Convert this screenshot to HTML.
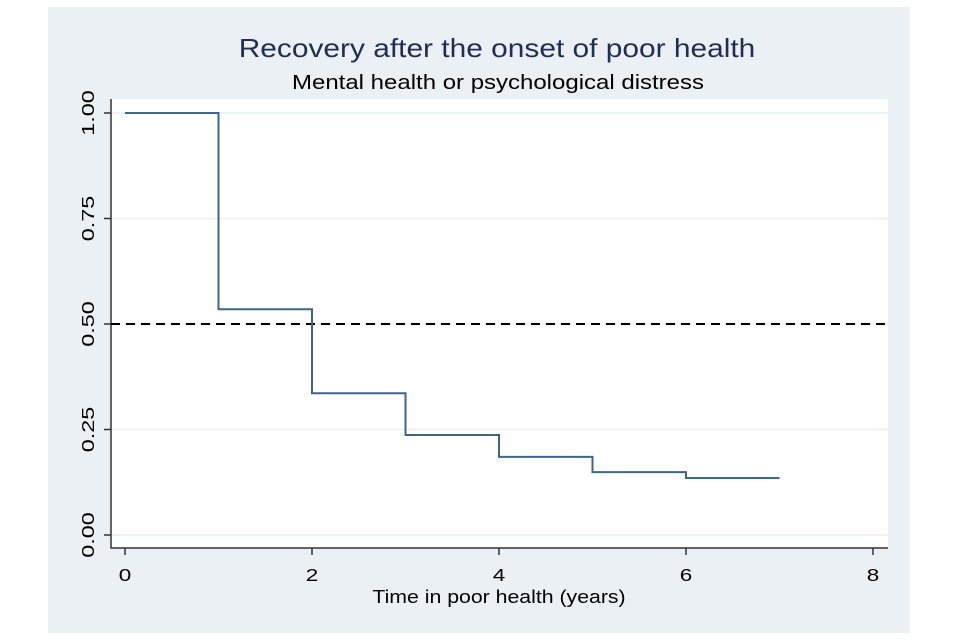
<!DOCTYPE html>
<html><head><meta charset="utf-8"><style>
html,body{margin:0;padding:0;background:#fff;}
svg{display:block;font-family:"Liberation Sans",sans-serif;}
</style></head><body>
<svg width="960" height="640" viewBox="0 0 960 640">
<rect x="48" y="7" width="862" height="626" fill="#eaf0f3"/>
<rect x="111" y="99" width="777" height="449" fill="#fff"/>
<text transform="translate(497,57) scale(1.15,1)" text-anchor="middle" font-size="26" fill="#1f2d5a">Recovery after the onset of poor health</text>
<text transform="translate(498,89) scale(1.2,1)" text-anchor="middle" font-size="20" fill="#000">Mental health or psychological distress</text>
<g id="grid"></g>
<g id="axes"></g>
<g id="series"></g>
<text transform="translate(499,603) scale(1.15,1)" text-anchor="middle" font-size="18.5" fill="#000">Time in poor health (years)</text>
</svg>
<script>
const times = [0,1,2,3,4,5,6,7];
const survival = [1.0,0.535,0.336,0.237,0.185,0.149,0.135,0.135];
const xTicks = [0,2,4,6,8];
const yTicks = [0,0.25,0.5,0.75,1];
const yTickLabels = ["0.00","0.25","0.50","0.75","1.00"];
const refLine = [0.5];
const NS="http://www.w3.org/2000/svg";
const xs=v=>125+v*93.5, ys=v=>535-v*422;
function mk(t,a,p){const e=document.createElementNS(NS,t);for(const k in a)e.setAttribute(k,a[k]);p.appendChild(e);return e;}
const grid=document.getElementById('grid'),axes=document.getElementById('axes'),ser=document.getElementById('series');
yTicks.forEach((v,i)=>{
 const g=mk('line',{x1:111,x2:888,y1:ys(v),y2:ys(v),stroke:'#eaf0f3','stroke-width':1.5},grid);
 
 
 const t=mk('line',{x1:104,x2:111,y1:ys(v),y2:ys(v),stroke:'#333','stroke-width':1.5},axes);
 
 
 const l=mk('text',{x:0,y:0,transform:`translate(94,${ys(v)}) rotate(-90) scale(1.3,1)`,'text-anchor':'middle','font-size':18,fill:'#000'},axes);
 l.textContent=yTickLabels[i];
 
 
});
xTicks.forEach(v=>{
 const t=mk('line',{x1:xs(v),x2:xs(v),y1:548,y2:555,stroke:'#333','stroke-width':1.5},axes);
 
 
 const l=mk('text',{x:0,y:0,transform:`translate(${xs(v)},581) scale(1.25,1)`,'text-anchor':'middle','font-size':18,fill:'#000'},axes);
 l.textContent=v;
 
 
});
const ya=mk('line',{x1:111,x2:111,y1:99,y2:548.5,stroke:'#333','stroke-width':1.5},axes);


const xa=mk('line',{x1:110.5,x2:888,y1:548,y2:548,stroke:'#333','stroke-width':1.5},axes);


refLine.forEach(v=>{
 const r=mk('line',{x1:111,x2:888,y1:ys(v),y2:ys(v),stroke:'#000','stroke-width':2,'stroke-dasharray':'9 6'},ser);
 
 
});
let d=`M${xs(times[0])},${ys(survival[0])}`;
for(let i=1;i<times.length;i++){d+=` H${xs(times[i])} V${ys(survival[i])}`;}
const p=mk('path',{d:d,fill:'none',stroke:'#3d6590','stroke-width':2},ser);


</script>
</body></html>
